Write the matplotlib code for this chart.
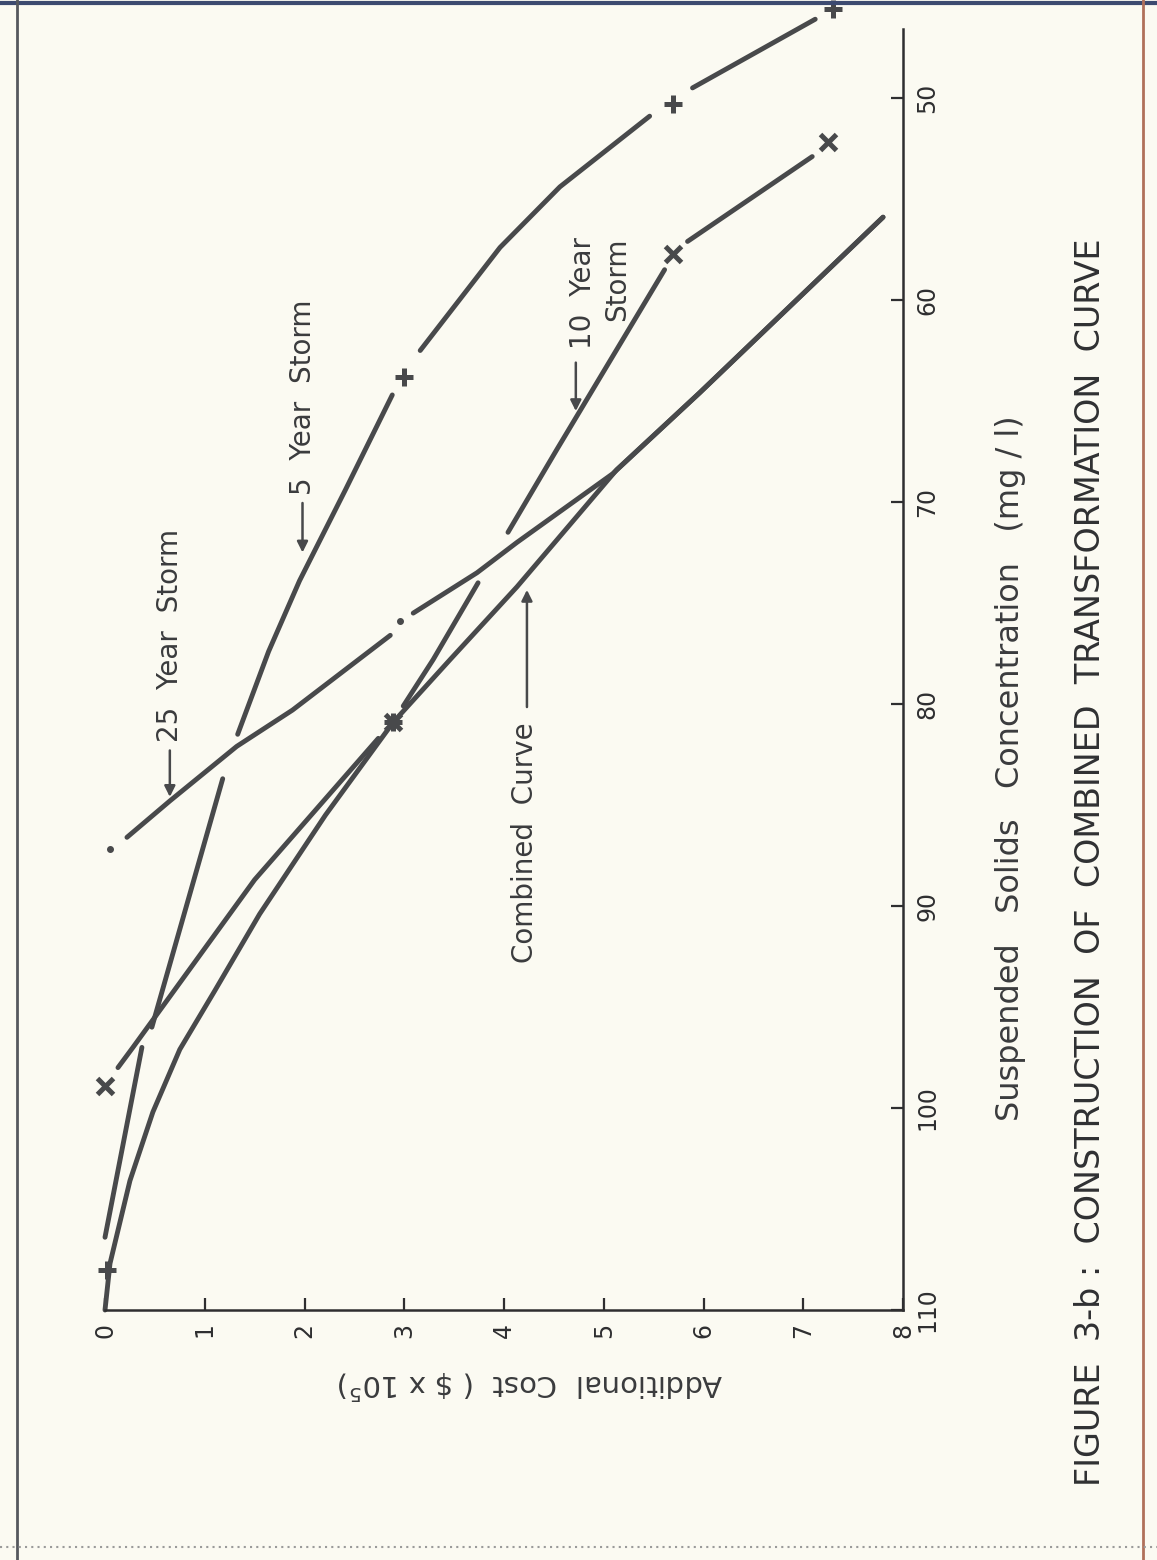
import matplotlib.pyplot as plt
from matplotlib.lines import Line2D

# values: cost in $ x 10^5, concentration in mg/l
# each storm curve was plotted with small breaks, so it is kept as segments

five_yr_segments = [
    ([0.00, 0.37], [106.4, 97.0]),
    ([0.47, 1.18], [96.0, 83.7]),
    ([1.33, 1.64, 1.95, 2.41, 2.88], [81.5, 77.4, 73.9, 69.4, 64.7]),
    ([3.16, 3.96, 4.56, 5.46], [62.5, 57.4, 54.4, 50.9]),
    ([5.89, 7.12], [49.5, 46.1]),
]
five_yr_mark_cost = [0.02, 3.00, 5.69, 7.30]
five_yr_mark_conc = [108.0, 63.8, 50.3, 45.6]

ten_yr_segments = [
    ([0.13, 0.28, 1.50, 2.74], [98.0, 97.0, 88.7, 81.7]),
    ([2.99, 3.29, 3.74], [80.1, 77.8, 74.0]),
    ([4.04, 4.53, 5.61], [71.5, 67.4, 58.5]),
    ([5.84, 7.09], [57.1, 52.9]),
]
ten_yr_mark_cost = [0.00, 2.89, 5.69, 7.25]
ten_yr_mark_conc = [98.9, 80.9, 57.7, 52.2]

tf_yr_segments = [
    ([0.22, 0.65, 1.32, 1.88, 2.86], [86.6, 84.8, 82.1, 80.3, 76.6]),
    ([3.09, 3.73, 4.13, 5.09, 5.96, 7.80], [75.5, 73.5, 72.0, 68.6, 64.6, 55.9]),
]
tf_yr_mark_cost = [0.05, 2.96]
tf_yr_mark_conc = [87.2, 75.9]

combined_cost = [0.00, 0.05, 0.25, 0.48, 0.75, 1.10, 1.55, 2.21, 2.89, 3.46, 4.13, 5.13, 5.96, 7.80]
combined_conc = [110.0, 107.7, 103.6, 100.2, 97.1, 94.2, 90.4, 85.5, 80.9, 77.8, 74.2, 68.4, 64.6, 55.9]

cost_ticks = [0, 1, 2, 3, 4, 5, 6, 7, 8]
conc_ticks = [50, 60, 70, 80, 90, 100, 110]

ink = '#48494b'
paper = '#fbfaf2'
font = 'DejaVu Sans'

W, H = 1157, 1560
fig = plt.figure(figsize=(W / 100, H / 100), dpi=100)
fig.patch.set_facecolor(paper)

# the page is scanned sideways: cost runs left->right, concentration bottom->top reversed
ax = fig.add_axes([105 / W, 250 / H, 798 / W, 1310 / H])
ax.set_facecolor('none')
ax.set_xlim(0, 8)
ax.set_ylim(110, 110 - 1310 / 20.2)

for segs in (five_yr_segments, ten_yr_segments, tf_yr_segments):
    for c, s in segs:
        ax.plot(c, s, color=ink, lw=3.5, solid_capstyle='round', solid_joinstyle='round',
                clip_on=False)
ax.plot(combined_cost, combined_conc, color=ink, lw=3.5, solid_capstyle='round',
        solid_joinstyle='round', clip_on=False)

ax.plot(five_yr_mark_cost, five_yr_mark_conc, ls='none', marker='+', ms=13, mew=3.6,
        color=ink, clip_on=False)
ax.plot(ten_yr_mark_cost, ten_yr_mark_conc, ls='none', marker='x', ms=11, mew=3.6,
        color=ink, clip_on=False)
ax.plot(ten_yr_mark_cost[1], ten_yr_mark_conc[1], marker='+', ms=13, mew=3.6,
        color=ink, clip_on=False)
ax.plot(tf_yr_mark_cost, tf_yr_mark_conc, ls='none', marker='o', ms=4,
        color=ink, clip_on=False)

for side in ('left', 'top'):
    ax.spines[side].set_visible(False)
for side in ('right', 'bottom'):
    ax.spines[side].set_linewidth(1.8)
    ax.spines[side].set_color('#2e2e30')
ax.spines['right'].set_bounds(110, 46.6)

ax.yaxis.tick_right()
ax.set_xticks(cost_ticks)
ax.set_yticks(conc_ticks)
ax.tick_params(axis='both', direction='in', length=9, width=1.6, color='#2e2e30',
               labelsize=17, labelcolor='#2e2e30', labelrotation=90, pad=9)
for lab in ax.get_xticklabels() + ax.get_yticklabels():
    lab.set_family(font)
for lab in ax.get_yticklabels():
    lab.set_va('center')

# storm labels with arrows
arrow = dict(arrowstyle='-|>', color=ink, lw=1.8, mutation_scale=16, shrinkA=0, shrinkB=0)
txt = dict(rotation=90, fontsize=20, color='#3a3b3d', family=font, ha='center')

ax.annotate('', xy=(0.65, 84.6), xytext=(0.65, 82.3), arrowprops=arrow)
ax.text(0.65, 81.9, '25  Year  Storm', va='bottom', **txt)

ax.annotate('', xy=(1.98, 72.5), xytext=(1.98, 70.05), arrowprops=arrow)
ax.text(1.98, 69.65, '5  Year  Storm', va='bottom', **txt)

ax.annotate('', xy=(4.72, 65.5), xytext=(4.72, 63.1), arrowprops=arrow)
ax.text(4.79, 56.9, '10  Year', va='top', **txt)
ax.text(5.13, 56.9, 'Storm', va='top', **txt)

ax.annotate('', xy=(4.23, 74.35), xytext=(4.23, 80.15), arrowprops=arrow)
ax.text(4.21, 92.8, 'Combined  Curve', va='bottom', **txt)

fig.text(1010 / W, 1 - 768 / H, 'Suspended   Solids   Concentration   (mg / l)',
         rotation=90, fontsize=23, color='#3a3b3d', family=font, ha='center', va='center')
fig.text(530 / W, 1 - 1385 / H, r'Additional  Cost  ( \$ x 10$^5$)',
         rotation=180, fontsize=21, color='#3a3b3d', family=font, ha='center', va='center')
fig.text(1090 / W, 1 - 862 / H,
         'FIGURE  3-b :  CONSTRUCTION  OF  COMBINED  TRANSFORMATION  CURVE',
         rotation=90, fontsize=24, color='#2f3032', family=font, ha='center', va='center')

# edges of the scanned page
fig.add_artist(Line2D([0, 1], [0.998, 0.998], transform=fig.transFigure, color='#3c4a70', lw=3))
fig.add_artist(Line2D([17 / W, 17 / W], [0, 1], transform=fig.transFigure, color='#55585e', lw=2))
fig.add_artist(Line2D([1143 / W, 1143 / W], [0, 1], transform=fig.transFigure, color='#b0705a', lw=2))
fig.add_artist(Line2D([0, 1], [13 / H, 13 / H], transform=fig.transFigure, color='#9a9a9a',
                      lw=1.5, ls=(0, (1, 2))))

fig.savefig('out.png', dpi=100, facecolor=fig.get_facecolor())
